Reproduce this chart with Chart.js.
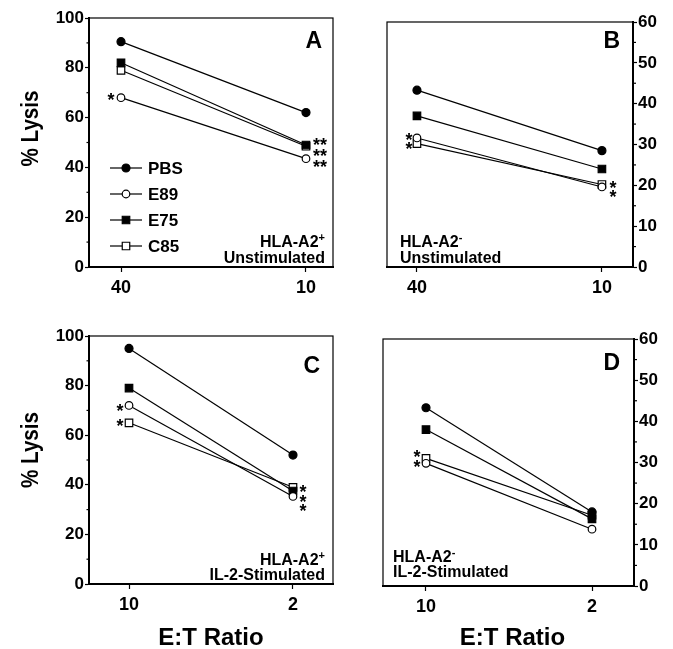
<!DOCTYPE html>
<html>
<head>
<meta charset="utf-8">
<script src="https://cdn.jsdelivr.net/npm/chart.js@4.4.1/dist/chart.umd.min.js"></script>
<style>
  body { margin: 0; background: #fff; }
  #wrap { position: relative; width: 673px; height: 649px; overflow: hidden; }
  #wrap canvas { position: absolute; }
</style>
</head>
<body>
<div id="wrap">
  <canvas id="cA" width="340" height="320" style="left:0;top:0"></canvas>
  <canvas id="cB" width="333" height="320" style="left:340px;top:0"></canvas>
  <canvas id="cC" width="340" height="329" style="left:0;top:320px"></canvas>
  <canvas id="cD" width="333" height="329" style="left:340px;top:320px"></canvas>
</div>
<script>
// ─── Data ───────────────────────────────────────────────────────────────────
const seriesNames = ['PBS', 'E89', 'E75', 'C85'];
const ratiosUnstim = ['40', '10'];
const ratiosStim = ['10', '2'];

const ticks100 = [0, 20, 40, 60, 80, 100];
const minor100 = [10, 30, 50, 70, 90];
const ticks60 = [0, 10, 20, 30, 40, 50, 60];
const minor60 = [5, 15, 25, 35, 45, 55];

// A: HLA-A2+ unstimulated
const pbsA = [90.5, 62.0];
const e89A = [68.0, 43.5];
const e75A = [82.0, 49.0];
const c85A = [79.0, 48.5];
// B: HLA-A2- unstimulated
const pbsB = [43.3, 28.5];
const e89B = [31.6, 19.6];
const e75B = [37.0, 24.0];
const c85B = [30.2, 20.2];
// C: HLA-A2+ IL-2-stimulated
const pbsC = [95.0, 52.0];
const e89C = [72.0, 35.3];
const e75C = [79.0, 37.5];
const c85C = [65.0, 39.0];
// D: HLA-A2- IL-2-stimulated
const pbsD = [43.3, 18.0];
const e89D = [29.8, 13.8];
const e75D = [38.0, 16.3];
const c85D = [31.0, 17.2];

// ─── Styles ─────────────────────────────────────────────────────────────────
const FONT = '"Liberation Sans", Arial, Helvetica, sans-serif';
const markers = [
  { style: 'circle', r: 4,   fill: '#000' },
  { style: 'circle', r: 3.8, fill: '#fff' },
  { style: 'rect',   r: 5.3, fill: '#000' },
  { style: 'rect',   r: 5.3, fill: '#fff' },
];

function drawStar(ctx, text, x, y) {
  ctx.font = `bold 18px ${FONT}`;
  ctx.textAlign = 'center';
  ctx.textBaseline = 'alphabetic';
  const m = ctx.measureText('*');
  const base = y + (m.actualBoundingBoxAscent - m.actualBoundingBoxDescent) / 2;
  ctx.fillText(text, x, base);
}

function drawCond(ctx, cond, area) {
  const x = cond.align === 'right' ? area.right - cond.inset : area.left + cond.inset;
  ctx.textBaseline = 'alphabetic';
  ctx.textAlign = 'left';
  ctx.font = `bold 16px ${FONT}`;
  const w1 = ctx.measureText(cond.line1).width;
  const w2 = ctx.measureText(cond.line2).width;
  ctx.font = `bold 11px ${FONT}`;
  const ws = ctx.measureText(cond.sup).width;
  const x1 = cond.align === 'right' ? x - w1 - ws : x;
  const x2 = cond.align === 'right' ? x - w2 : x;
  const b1 = area.bottom - cond.b1, b2 = area.bottom - cond.b2;
  ctx.font = `bold 16px ${FONT}`;
  ctx.fillText(cond.line1, x1, b1);
  ctx.fillText(cond.line2, x2, b2);
  ctx.font = `bold 11px ${FONT}`;
  ctx.fillText(cond.sup, x1 + w1, b1 - 6);
}

// ─── Panel builder ──────────────────────────────────────────────────────────
function makePanel(id, p) {
  const canvas = document.getElementById(id);
  const W = canvas.width, H = canvas.height;
  const onLeft = p.yPos === 'left';
  const yFont = { family: FONT, size: 17, weight: 'bold' };
  const xFont = { family: FONT, size: 18, weight: 'bold' };

  const datasets = p.series.map((vals, k) => ({
    label: seriesNames[k],
    data: vals.map((v, i) => ({ x: i, y: v })),
    borderColor: '#000',
    borderWidth: 1.2,
    pointStyle: markers[k].style,
    pointRadius: markers[k].r,
    pointHoverRadius: markers[k].r,
    pointBackgroundColor: markers[k].fill,
    pointBorderColor: '#000',
    pointBorderWidth: 1.2,
    fill: false,
  }));

  const decor = {
    id: 'decor',
    afterDraw(chart) {
      const ctx = chart.ctx, a = chart.chartArea, ys = chart.scales.y;
      ctx.save();
      ctx.fillStyle = '#000';
      ctx.strokeStyle = '#000';

      // frame
      ctx.lineWidth = 1.2;
      ctx.strokeRect(a.left, a.top, a.right - a.left, a.bottom - a.top);

      // minor ticks
      p.yMinor.forEach(v => {
        const py = ys.getPixelForValue(v);
        ctx.beginPath();
        if (onLeft) { ctx.moveTo(a.left - 2.5, py); ctx.lineTo(a.left, py); }
        else { ctx.moveTo(a.right, py); ctx.lineTo(a.right + 3, py); }
        ctx.stroke();
      });

      // panel letter
      ctx.font = `bold 23px ${FONT}`;
      ctx.textAlign = 'right';
      ctx.textBaseline = 'alphabetic';
      ctx.fillText(p.letter, a.right - p.letterPos[0], a.top + p.letterPos[1]);

      drawCond(ctx, p.cond, a);

      // significance marks
      p.stars.forEach(s => {
        const pt = chart.getDatasetMeta(s.ds).data[s.i];
        drawStar(ctx, s.text, pt.x + s.dx, pt.y + s.dy);
      });

      // legend
      if (p.legend) {
        chart.data.datasets.forEach((ds, k) => {
          const y = a.top + 150 + k * 26;
          const x0 = a.left + 21;
          ctx.lineWidth = 1.2;
          ctx.beginPath();
          ctx.moveTo(x0, y); ctx.lineTo(x0 + 32, y);
          ctx.stroke();
          ctx.fillStyle = ds.pointBackgroundColor;
          ctx.lineWidth = ds.pointBorderWidth;
          Chart.helpers.drawPoint(ctx, { pointStyle: ds.pointStyle, radius: ds.pointRadius, rotation: 0, borderWidth: ds.pointBorderWidth }, x0 + 16, y);
          ctx.fillStyle = '#000';
          ctx.font = `bold 17px ${FONT}`;
          ctx.textAlign = 'left';
          ctx.textBaseline = 'middle';
          ctx.fillText(ds.label, x0 + 38, y + 1);
        });
      }

      // axis titles
      if (p.yTitle) {
        ctx.save();
        ctx.translate(31, (a.top + a.bottom) / 2 + p.yTitleShift);
        ctx.rotate(-Math.PI / 2);
        ctx.scale(0.86, 1);
        ctx.font = `bold 24px ${FONT}`;
        ctx.textAlign = 'center';
        ctx.textBaseline = 'middle';
        ctx.fillText('% Lysis', 0, 0);
        ctx.restore();
      }
      if (p.xTitle) {
        ctx.font = `bold 24px ${FONT}`;
        ctx.textAlign = 'center';
        ctx.textBaseline = 'alphabetic';
        ctx.fillText('E:T Ratio', (a.left + a.right) / 2 + p.xTitleShift, a.bottom + p.xTitleBase);
      }
      ctx.restore();
    },
  };

  return new Chart(canvas, {
    type: 'line',
    data: { datasets },
    options: {
      responsive: false,
      animation: false,
      events: [],
      layout: {
        autoPadding: false,
        padding: {
          left: onLeft ? 0 : p.area.left,
          right: onLeft ? W - p.area.right : 0,
          top: p.area.top,
          bottom: 0,
        },
      },
      plugins: { legend: { display: false }, tooltip: { enabled: false } },
      scales: {
        x: {
          type: 'linear',
          min: p.xRange[0],
          max: p.xRange[1],
          afterBuildTicks: s => { s.ticks = p.labels.map((_, i) => ({ value: i })); },
          afterFit: s => { s.height = H - p.area.bottom; },
          ticks: { font: xFont, color: '#000', padding: 5, maxRotation: 0, autoSkip: false,
                   callback: v => p.labels[v] ?? '' },
          grid: { drawOnChartArea: false, drawTicks: true, tickLength: 5, tickColor: '#000', tickWidth: 1.2 },
          border: { display: true, color: '#000', width: 2 },
        },
        y: {
          type: 'linear',
          position: p.yPos,
          min: 0,
          max: p.yMax,
          afterBuildTicks: s => { s.ticks = p.yTicks.map(v => ({ value: v })); },
          afterFit: s => { s.width = onLeft ? p.area.left : W - p.area.right; },
          ticks: { font: yFont, color: '#000', padding: 1 },
          grid: { drawOnChartArea: false, drawTicks: true, tickLength: 4, tickColor: '#000', tickWidth: 1.2 },
          border: { display: true, color: '#000', width: 2 },
        },
      },
    },
    plugins: [decor],
  });
}

// ─── Panels ─────────────────────────────────────────────────────────────────
makePanel('cA', {
  labels: ratiosUnstim, series: [pbsA, e89A, e75A, c85A],
  yMax: 100, yTicks: ticks100, yMinor: minor100, yPos: 'left',
  area: { left: 89, top: 18, right: 333, bottom: 267 }, xRange: [-0.173, 1.146],
  letter: 'A', letterPos: [11, 30],
  cond: { line1: 'HLA-A2', sup: '+', line2: 'Unstimulated', align: 'right', inset: 8, b1: 20, b2: 4 },
  stars: [
    { ds: 1, i: 0, text: '*',  dx: -10, dy: -1 },
    { ds: 2, i: 1, text: '**', dx: 14, dy: -3 },
    { ds: 3, i: 1, text: '**', dx: 14, dy: 6 },
    { ds: 1, i: 1, text: '**', dx: 14, dy: 5 },
  ],
  legend: true, yTitle: true, yTitleShift: -14, xTitle: false,
});

makePanel('cB', {
  labels: ratiosUnstim, series: [pbsB, e89B, e75B, c85B],
  yMax: 60, yTicks: ticks60, yMinor: minor60, yPos: 'right',
  area: { left: 47, top: 22, right: 293, bottom: 267 }, xRange: [-0.162, 1.168],
  letter: 'B', letterPos: [13, 26],
  cond: { line1: 'HLA-A2', sup: '-', line2: 'Unstimulated', align: 'left', inset: 13, b1: 20, b2: 4 },
  stars: [
    { ds: 1, i: 0, text: '*', dx: -8, dy: -1 },
    { ds: 3, i: 0, text: '*', dx: -8, dy: 2 },
    { ds: 3, i: 1, text: '*', dx: 11, dy: 0 },
    { ds: 1, i: 1, text: '*', dx: 11, dy: 7 },
  ],
  legend: false, yTitle: false, xTitle: false,
});

makePanel('cC', {
  labels: ratiosStim, series: [pbsC, e89C, e75C, c85C],
  yMax: 100, yTicks: ticks100, yMinor: minor100, yPos: 'left',
  area: { left: 89, top: 16, right: 333, bottom: 264 }, xRange: [-0.244, 1.244],
  letter: 'C', letterPos: [13, 37],
  cond: { line1: 'HLA-A2', sup: '+', line2: 'IL-2-Stimulated', align: 'right', inset: 8, b1: 19, b2: 4 },
  stars: [
    { ds: 1, i: 0, text: '*', dx: -9, dy: 2 },
    { ds: 3, i: 0, text: '*', dx: -9, dy: 0 },
    { ds: 3, i: 1, text: '*', dx: 10, dy: 1 },
    { ds: 2, i: 1, text: '*', dx: 10, dy: 7 },
    { ds: 1, i: 1, text: '*', dx: 10, dy: 11 },
  ],
  legend: false, yTitle: true, yTitleShift: -10, xTitle: true, xTitleShift: 0, xTitleBase: 61,
});

makePanel('cD', {
  labels: ratiosStim, series: [pbsD, e89D, e75D, c85D],
  yMax: 60, yTicks: ticks60, yMinor: minor60, yPos: 'right',
  area: { left: 43, top: 19, right: 294, bottom: 266 }, xRange: [-0.259, 1.253],
  letter: 'D', letterPos: [14, 31],
  cond: { line1: 'HLA-A2', sup: '-', line2: 'IL-2-Stimulated', align: 'left', inset: 10, b1: 24, b2: 9 },
  stars: [
    { ds: 3, i: 0, text: '*', dx: -9, dy: -5 },
    { ds: 1, i: 0, text: '*', dx: -9, dy: 0 },
  ],
  legend: false, yTitle: false, xTitle: true, xTitleShift: 4, xTitleBase: 59,
});
</script>
</body>
</html>
